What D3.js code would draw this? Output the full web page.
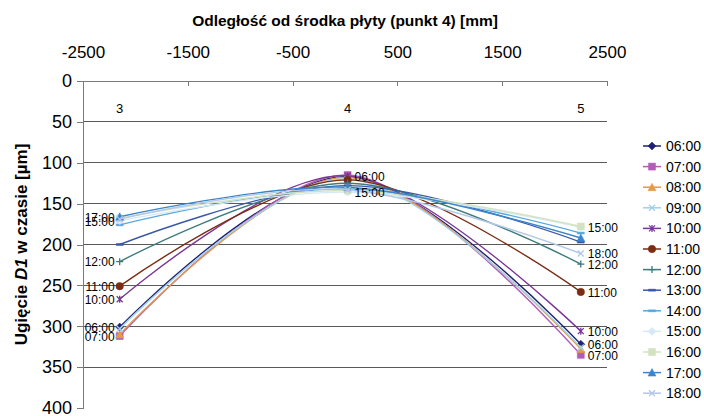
<!DOCTYPE html>
<html>
<head>
<meta charset="utf-8">
<script src="https://cdn.jsdelivr.net/npm/d3@7"></script>
<style>
  body { margin: 0; background: #fff; }
  svg { font-family: "Liberation Sans", Arial, Helvetica, sans-serif; }
</style>
</head>
<body>
<svg id="chart" width="704" height="416"></svg>
<script>
// data
var pointX = [-2150, 25, 2250];
var pointNames = ["3", "4", "5"];
var pointNameLevel = 33;
var seriesNames = ["06:00", "07:00", "08:00", "09:00", "10:00", "11:00", "12:00",
  "13:00", "14:00", "15:00", "16:00", "17:00", "18:00"];
var seriesValues = [
  [301, 117, 322],
  [312, 115, 335],
  [310, 118, 328],
  [303, 120, 326],
  [267, 116, 306],
  [251, 121, 258],
  [221, 125, 224],
  [200, 128, 197],
  [176, 132, 186],
  [171, 136, 179],
  [168, 134, 178],
  [166, 130, 192],
  [169, 133, 211]
];
var labeledAt = [
  ["17:00", "15:00", "12:00", "11:00", "10:00", "06:00", "07:00"],
  ["06:00", "15:00"],
  ["15:00", "18:00", "12:00", "11:00", "10:00", "06:00", "07:00"]
];
var xTicks = [-2500, -1500, -500, 500, 1500, 2500];
var yTicks = [0, 50, 100, 150, 200, 250, 300, 350, 400];

// styling
var colors = ["#1f2272", "#b25db5", "#e39a4a", "#9fd2ec", "#7a3596", "#7b2c12", "#3e7b7b",
  "#3a56a8", "#58a8de", "#d5e9f6", "#d3e3c1", "#3a86c8", "#b3c7e7"];
var markers = ["diamond", "square", "triangle", "times", "star", "circle", "plus",
  "dash", "dash", "diamond", "square", "triangle", "times"];

var svg = d3.select("#chart");
var pLeft = 83, pRight = 607, pTop = 81, pBottom = 408;

var x = d3.scaleLinear().domain([-2500, 2500]).range([pLeft, pRight]);
var y = d3.scaleLinear().domain([0, 400]).range([pTop, pBottom]);

// gridlines
svg.append("g").selectAll("line")
  .data(yTicks.filter(function(d) { return d > 0 && d < 400; }))
  .enter().append("line")
  .attr("x1", pLeft).attr("x2", pRight)
  .attr("y1", function(d) { return y(d); }).attr("y2", function(d) { return y(d); })
  .style("stroke", "#5a5a5a").style("stroke-width", 1.2)
  .style("shape-rendering", "crispEdges");

// x axis (top), plain hyphen for negatives
var xAxis = svg.append("g")
  .attr("transform", "translate(0," + pTop + ")")
  .call(d3.axisTop(x).tickValues(xTicks).tickFormat(function(d) { return String(d); })
    .tickSizeInner(-5).tickSizeOuter(0).tickPadding(23));
xAxis.selectAll("text").style("font-size", "17px").style("fill", "#000");

// y axis (left)
var yAxis = svg.append("g")
  .attr("transform", "translate(" + pLeft + ",0)")
  .call(d3.axisLeft(y).tickValues(yTicks).tickFormat(function(d) { return String(d); })
    .tickSize(6).tickSizeOuter(0).tickPadding(5));
yAxis.selectAll("text").style("font-size", "18px").style("fill", "#000");

svg.selectAll(".domain, .tick line")
  .style("stroke", "#7a7a7a")
  .style("shape-rendering", "crispEdges");

// titles
svg.append("text")
  .attr("x", (pLeft + pRight) / 2).attr("y", 26)
  .attr("text-anchor", "middle")
  .style("font-size", "15.5px").style("font-weight", "bold")
  .text("Odległość od środka płyty (punkt 4) [mm]");

var yTitle = svg.append("text")
  .attr("transform", "translate(27," + ((pTop + pBottom) / 2) + ") rotate(-90)")
  .attr("text-anchor", "middle")
  .style("font-size", "17px").style("font-weight", "bold");
yTitle.append("tspan").text("Ugięcie ");
yTitle.append("tspan").style("font-style", "italic").text("D1");
yTitle.append("tspan").text(" w czasie [µm]");

// point names 3, 4, 5
svg.append("g").selectAll("text")
  .data(pointNames)
  .enter().append("text")
  .attr("x", function(d, i) { return x(pointX[i]); })
  .attr("y", y(pointNameLevel))
  .attr("dy", "0.35em")
  .attr("text-anchor", "middle")
  .style("font-size", "13px")
  .text(function(d) { return d; });

// markers
function markerPath(type) {
  var s = 3.5;
  switch (type) {
    case "diamond": return "M0," + (-s - 0.5) + "L" + (s + 0.5) + ",0L0," + (s + 0.5) + "L" + (-s - 0.5) + ",0Z";
    case "square": return "M" + (-s) + "," + (-s) + "h" + (2 * s) + "v" + (2 * s) + "h" + (-2 * s) + "Z";
    case "triangle": return "M0," + (-s - 0.5) + "L" + (s + 0.5) + "," + s + "L" + (-s - 0.5) + "," + s + "Z";
    case "circle": return d3.symbol(d3.symbolCircle, 44)();
    case "times": return "M-3,-3L3,3M-3,3L3,-3";
    case "plus": return "M-3.5,0H3.5M0,-3.5V3.5";
    case "star": return "M-3,-3L3,3M-3,3L3,-3M0,-3.5V3.5";
    case "dash": return "M-3.5,-1h7v2h-7Z";
  }
}
function isStroke(type) { return type == "times" || type == "plus" || type == "star"; }

var line = d3.line()
  .x(function(d, i) { return x(pointX[i]); })
  .y(function(d) { return y(d); })
  .curve(d3.curveCardinal.tension(0));

var series = svg.append("g").selectAll("g.series")
  .data(seriesValues)
  .enter().append("g")
  .attr("class", "series");

series.append("path")
  .attr("d", function(d) { return line(d); })
  .style("fill", "none")
  .style("stroke", function(d, i) { return colors[i]; })
  .style("stroke-width", 1.4);

series.each(function(vals, si) {
  var g = d3.select(this);
  g.selectAll("path.m")
    .data(vals)
    .enter().append("path")
    .attr("class", "m")
    .attr("transform", function(d, i) { return "translate(" + x(pointX[i]) + "," + y(d) + ")"; })
    .attr("d", markerPath(markers[si]))
    .style("fill", isStroke(markers[si]) ? "none" : colors[si])
    .style("stroke", colors[si])
    .style("stroke-width", isStroke(markers[si]) ? 1.3 : 0.5);
});

// data labels
labeledAt.forEach(function(names, pi) {
  names.forEach(function(name) {
    var si = seriesNames.indexOf(name);
    var v = seriesValues[si][pi];
    svg.append("text")
      .attr("x", x(pointX[pi]) + (pi == 0 ? -5 : 7))
      .attr("y", y(v))
      .attr("dy", "0.4em")
      .attr("text-anchor", pi == 0 ? "end" : "start")
      .style("font-size", "12px")
      .text(name);
  });
});

// legend
var legend = svg.append("g").selectAll("g.leg")
  .data(seriesNames)
  .enter().append("g")
  .attr("class", "leg")
  .attr("transform", function(d, i) { return "translate(652," + (146 + i * 20.6) + ")"; });

legend.append("line")
  .attr("x1", -9).attr("x2", 9)
  .style("stroke", function(d, i) { return colors[i]; })
  .style("stroke-width", 1.5);

legend.append("path")
  .attr("d", function(d, i) { return markerPath(markers[i]); })
  .style("fill", function(d, i) { return isStroke(markers[i]) ? "none" : colors[i]; })
  .style("stroke", function(d, i) { return colors[i]; })
  .style("stroke-width", function(d, i) { return isStroke(markers[i]) ? 1.3 : 0.5; });

legend.append("text")
  .attr("x", 14).attr("dy", "0.36em")
  .style("font-size", "14px")
  .text(function(d) { return d; });
</script>
</body>
</html>
